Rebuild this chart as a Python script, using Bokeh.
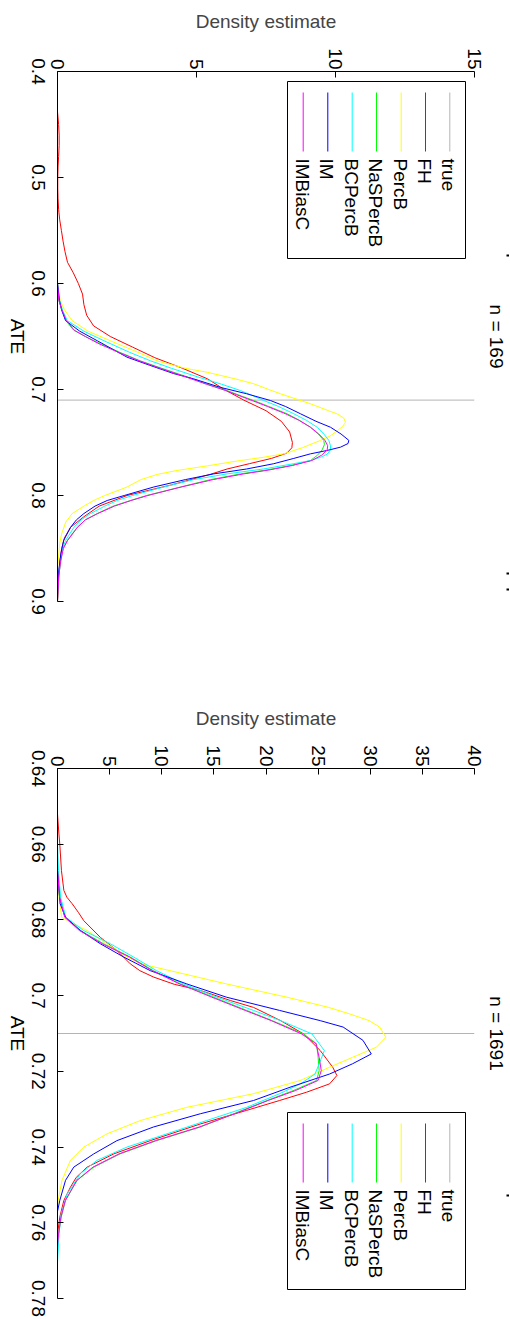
import math
from bokeh.plotting import figure
from bokeh.models import Range1d, FixedTicker
from bokeh.layouts import column, row
from bokeh.embed import file_html
from bokeh.resources import INLINE
from bokeh.core.properties import value

FONT = "Liberation Sans"
FS = "19px"

names = ["true", "FH", "PercB", "NaSPercB", "BCPercB", "IM", "IMBiasC"]
colors = ["#b4b4b4", "#ff0000", "#ffff00", "#00ff00", "#00ffff", "#0000ff", "#ff00ff"]

# ---------------- panel 1 (n = 169) ----------------
p1_title = "n = 169"
p1_true = 0.71
p1_dens_ticks = [0, 5, 10, 15]
p1_ate_ticks = [0.4, 0.5, 0.6, 0.7, 0.8, 0.9]
p1_ate_labels = ["0.4", "0.5", "0.6", "0.7", "0.8", "0.9"]

p1_fh_ate = [0.438, 0.45, 0.46, 0.47, 0.48, 0.49, 0.50, 0.51, 0.52, 0.53, 0.54, 0.55, 0.56, 0.57, 0.58, 0.59,
             0.60, 0.61, 0.62, 0.63, 0.64, 0.65, 0.66, 0.67, 0.68, 0.69, 0.70, 0.71, 0.72, 0.73, 0.74, 0.75,
             0.755, 0.76, 0.765, 0.77, 0.775, 0.78, 0.79, 0.80, 0.81, 0.82, 0.83, 0.84, 0.85, 0.86, 0.87, 0.88, 0.89, 0.90]
p1_fh_den = [0.0, 0.04, 0.06, 0.06, 0.04, 0.02, 0.01, 0.01, 0.02, 0.04, 0.08, 0.14, 0.2, 0.27, 0.36, 0.57,
             0.75, 0.9, 0.95, 1.05, 1.3, 1.9, 2.7, 3.5, 4.5, 5.4, 6.0, 6.7, 7.5, 8.05, 8.35, 8.45,
             8.43, 8.25, 7.7, 6.9, 6.1, 5.5, 4.1, 2.5, 1.5, 0.95, 0.47, 0.25, 0.15, 0.1, 0.06, 0.03, 0.02, 0.0]

p1_percb_ate = [0.60, 0.61, 0.616, 0.625, 0.635, 0.645, 0.654, 0.665, 0.673, 0.68, 0.6837, 0.69, 0.6946, 0.70,
                0.704, 0.71, 0.7135, 0.72, 0.723, 0.727, 0.731, 0.735, 0.739, 0.744, 0.748, 0.755, 0.7607, 0.764,
                0.767, 0.772, 0.7764, 0.78, 0.785, 0.792, 0.80, 0.8047, 0.81, 0.817, 0.825, 0.836, 0.845, 0.855, 0.868]
p1_percb_den = [0.0, 0.05, 0.1, 0.25, 0.53, 1.1, 1.9, 2.9, 3.58, 4.6, 5.38, 6.4, 7.06, 7.6,
                8.02, 8.7, 9.1, 9.75, 10.06, 10.3, 10.36, 10.25, 10.06, 9.8, 9.46, 8.8, 8.14, 7.4,
                6.58, 5.4, 4.3, 3.6, 3.0, 2.5, 1.7, 1.3, 0.95, 0.53, 0.3, 0.15, 0.08, 0.05, 0.0]

p1_naspercb_ate = [0.60, 0.616, 0.625, 0.635, 0.644, 0.65, 0.657, 0.665, 0.673, 0.68, 0.688, 0.695, 0.701, 0.705,
                   0.7104, 0.716, 0.7229, 0.729, 0.7356, 0.742, 0.748, 0.752, 0.757, 0.762, 0.767, 0.7717, 0.776,
                   0.7796, 0.785, 0.792, 0.80, 0.8047, 0.81, 0.817, 0.823, 0.83, 0.8425, 0.85, 0.861, 0.875, 0.89, 0.90]
p1_naspercb_den = [0.0, 0.05, 0.15, 0.3, 0.58, 1.0, 1.55, 2.25, 2.98, 3.75, 4.66, 5.4, 6.1, 6.5,
                   7.06, 7.6, 8.26, 8.7, 9.1, 9.38, 9.58, 9.6, 9.52, 9.35, 9.1, 8.38, 7.5,
                   6.58, 5.5, 4.42, 3.2, 2.63, 2.0, 1.43, 1.0, 0.71, 0.35, 0.2, 0.12, 0.05, 0.02, 0.0]

p1_bcpercb_ate = [0.60, 0.616, 0.625, 0.635, 0.645, 0.654, 0.665, 0.673, 0.68, 0.688, 0.695, 0.701, 0.705, 0.7104,
                  0.716, 0.7229, 0.729, 0.7356, 0.742, 0.748, 0.753, 0.757, 0.761, 0.764, 0.767, 0.77, 0.775,
                  0.7796, 0.785, 0.792, 0.80, 0.8047, 0.81, 0.817, 0.823, 0.83, 0.8425, 0.85, 0.861, 0.875, 0.89]
p1_bcpercb_den = [0.0, 0.08, 0.18, 0.35, 0.95, 1.67, 2.6, 3.35, 4.1, 5.03, 5.9, 6.58, 6.95, 7.42,
                  7.95, 8.5, 8.95, 9.34, 9.58, 9.76, 9.82, 9.82, 9.7, 9.46, 9.1, 8.5, 7.4,
                  6.1, 4.9, 3.82, 2.7, 2.15, 1.7, 1.19, 0.85, 0.59, 0.29, 0.18, 0.1, 0.04, 0.0]

p1_im_ate = [0.60, 0.616, 0.625, 0.635, 0.645, 0.654, 0.6695, 0.677, 0.685, 0.69, 0.698, 0.704, 0.7104, 0.716,
             0.7229, 0.73, 0.7356, 0.742, 0.748, 0.751, 0.7544, 0.7575, 0.7607, 0.765, 0.77, 0.775, 0.7796,
             0.785, 0.792, 0.80, 0.8047, 0.81, 0.817, 0.823, 0.83, 0.8425, 0.855, 0.87, 0.89]
p1_im_den = [0.0, 0.07, 0.15, 0.29, 0.8, 1.43, 2.5, 3.3, 4.18, 4.9, 5.86, 6.8, 7.66, 8.2,
             8.74, 9.3, 9.82, 10.2, 10.48, 10.45, 10.18, 9.7, 9.1, 8.5, 7.78, 6.8, 5.62,
             4.6, 3.46, 2.4, 1.79, 1.35, 0.95, 0.68, 0.47, 0.22, 0.12, 0.05, 0.0]

p1_imbiasc_ate = [0.60, 0.616, 0.625, 0.635, 0.644, 0.65, 0.657, 0.665, 0.673, 0.68, 0.688, 0.695, 0.701, 0.705,
                  0.7104, 0.716, 0.7229, 0.729, 0.7356, 0.742, 0.748, 0.753, 0.757, 0.762, 0.767, 0.7717, 0.776,
                  0.7796, 0.785, 0.792, 0.80, 0.8047, 0.81, 0.817, 0.823, 0.83, 0.8425, 0.85, 0.861, 0.875, 0.89, 0.90]
p1_imbiasc_den = [0.0, 0.05, 0.16, 0.32, 0.6, 1.0, 1.5, 2.2, 2.95, 3.7, 4.6, 5.35, 6.05, 6.45,
                  7.0, 7.55, 8.2, 8.68, 9.1, 9.4, 9.62, 9.72, 9.7, 9.5, 9.15, 8.45, 7.6,
                  6.7, 5.6, 4.45, 3.25, 2.65, 2.05, 1.45, 1.0, 0.72, 0.36, 0.21, 0.12, 0.05, 0.02, 0.0]

# ---------------- panel 2 (n = 1691) ----------------
p2_title = "n = 1691"
p2_true = 0.71
p2_dens_ticks = [0, 5, 10, 15, 20, 25, 30, 35, 40]
p2_ate_ticks = [0.64, 0.66, 0.68, 0.70, 0.72, 0.74, 0.76, 0.78]
p2_ate_labels = ["0.64", "0.66", "0.68", "0.7", "0.72", "0.74", "0.76", "0.78"]

p2_fh_ate = [0.652, 0.656, 0.66, 0.667, 0.6722, 0.674, 0.6757, 0.678, 0.6802, 0.6846, 0.6881, 0.6916, 0.6934,
             0.6951, 0.697, 0.6986, 0.7013, 0.7031, 0.7066, 0.7101, 0.7145, 0.7189, 0.7211, 0.7233, 0.7255,
             0.7277, 0.7303, 0.7339, 0.7383, 0.7418, 0.7453, 0.748, 0.7506, 0.7541, 0.7585, 0.763]
p2_fh_den = [0.0, 0.1, 0.22, 0.38, 0.61, 0.9, 1.4, 2.0, 2.52, 4.11, 5.71, 6.98, 7.9,
             9.22, 11.2, 13.68, 16.6, 18.8, 21.4, 23.6, 25.2, 26.4, 26.8, 26.1, 23.9,
             21.3, 18.15, 13.7, 8.9, 5.4, 2.84, 1.8, 1.24, 0.61, 0.22, 0.0]

p2_percb_ate = [0.667, 0.674, 0.6793, 0.681, 0.6828, 0.6863, 0.6898, 0.6916, 0.6934, 0.6969, 0.7004, 0.7031,
                0.7048, 0.7066, 0.7083, 0.711, 0.7136, 0.7163, 0.7189, 0.7224, 0.7259, 0.7295, 0.733, 0.7365,
                0.74, 0.7435, 0.7488, 0.7541, 0.756]
p2_percb_den = [0.0, 0.15, 0.4, 1.5, 2.84, 4.75, 6.67, 8.0, 10.8, 16.2, 22.0, 26.0,
                28.0, 29.9, 30.9, 31.5, 30.6, 28.3, 26.1, 23.3, 18.8, 12.4, 7.94, 4.75,
                2.52, 1.24, 0.43, 0.06, 0.0]

p2_naspercb_ate = [0.667, 0.674, 0.6793, 0.6828, 0.6863, 0.6898, 0.6934, 0.6969, 0.7004, 0.7039, 0.7066, 0.7101,
                   0.7127, 0.7163, 0.7198, 0.7224, 0.7251, 0.7277, 0.7312, 0.7347, 0.7383, 0.7418, 0.7453,
                   0.7488, 0.7541, 0.7585, 0.763, 0.766]
p2_naspercb_den = [0.0, 0.2, 0.7, 2.2, 4.43, 6.98, 9.2, 11.8, 14.96, 18.15, 20.6, 23.6,
                   24.85, 25.0, 25.1, 24.85, 22.6, 20.1, 16.9, 13.7, 9.5, 6.0, 3.48,
                   1.88, 0.77, 0.35, 0.1, 0.0]

p2_bcpercb_ate = [0.660, 0.667, 0.674, 0.6793, 0.6828, 0.6863, 0.6898, 0.6934, 0.6969, 0.7004, 0.7039, 0.7066,
                  0.7101, 0.7145, 0.718, 0.7207, 0.7233, 0.7259, 0.7295, 0.733, 0.7365, 0.74, 0.7435, 0.747,
                  0.7524, 0.7577, 0.763, 0.7705]
p2_bcpercb_den = [0.0, 0.1, 0.3, 0.8, 2.5, 5.07, 7.3, 9.5, 12.1, 15.3, 18.8, 21.4,
                  24.4, 25.6, 25.1, 24.7, 23.3, 21.3, 18.15, 14.3, 10.5, 6.67, 3.8, 2.2,
                  0.92, 0.35, 0.15, 0.0]

p2_im_ate = [0.667, 0.6757, 0.6793, 0.6828, 0.6863, 0.6898, 0.6934, 0.6969, 0.7004, 0.7039, 0.7066, 0.7083,
             0.7118, 0.7154, 0.718, 0.7207, 0.7242, 0.7277, 0.7312, 0.7347, 0.7383, 0.7418, 0.7453, 0.7488,
             0.7541, 0.757]
p2_im_den = [0.0, 0.25, 0.77, 2.2, 4.11, 6.35, 8.9, 12.4, 16.2, 21.3, 25.2, 27.4,
             29.3, 30.1, 28.3, 26.1, 22.3, 18.8, 13.7, 9.2, 5.7, 3.48, 1.56, 0.77,
             0.22, 0.0]

p2_imbiasc_ate = [0.667, 0.674, 0.6793, 0.6828, 0.6863, 0.6898, 0.6934, 0.6969, 0.7004, 0.7039, 0.7066, 0.7101,
                  0.7127, 0.7163, 0.7198, 0.7224, 0.7251, 0.7277, 0.7312, 0.7347, 0.7383, 0.7418, 0.7453,
                  0.7488, 0.7541, 0.7585, 0.763, 0.766]
p2_imbiasc_den = [0.0, 0.2, 0.7, 2.1, 4.3, 6.9, 9.1, 11.7, 14.8, 18.0, 20.5, 23.4,
                  24.8, 25.1, 25.3, 25.0, 22.8, 20.2, 17.0, 13.6, 9.4, 5.9, 3.4,
                  1.85, 0.75, 0.33, 0.1, 0.0]

# ---------------- layout geometry (page pixels) ----------------
O = 0                 # page origin of the layout
LW = 47               # width of the left text strip
PBL, PBR = 10, 10     # left / right border of the plot figure
FW, FH = 417, 530     # frame size
FX = O + LW + PBL     # frame left (page px)
RX0 = FX + FW + PBR   # start of right text strip
RW = 509 - RX0        # width of right text strip


def no_align(f):
    try:
        f.frame_align = False
    except Exception:
        pass


def strip(x_start, width, height, yr):
    f = figure(width=width, height=height, output_backend="svg", toolbar_location=None,
               x_range=Range1d(x_start, x_start + width), y_range=yr,
               x_axis_location=None, y_axis_location=None,
               min_border_left=0, min_border_right=0, min_border_top=0, min_border_bottom=0)
    f.outline_line_color = None
    for g in f.grid:
        g.visible = False
    f.background_fill_color = "white"
    f.border_fill_color = "white"
    no_align(f)
    return f


def make_panel(title, true_ate, dens_ticks, ate_ticks, ate_labels, series,
               fig_top_page, frame_top_page, bottom_border, legend_top_page, edge_marks):
    x0, x1 = dens_ticks[0], dens_ticks[-1]
    ytop, ybot = ate_ticks[0], ate_ticks[-1]
    FY = float(frame_top_page)
    top_border = frame_top_page - fig_top_page
    H = top_border + FH + bottom_border

    def dx(px):
        return x0 + (px - FX) / FW * (x1 - x0)

    def dy(py):
        return ytop + (py - FY) / FH * (ybot - ytop)

    p = figure(frame_width=FW, frame_height=FH, output_backend="svg", toolbar_location=None,
               x_range=Range1d(x0, x1), y_range=Range1d(ybot, ytop),
               x_axis_location="above", y_axis_location="left",
               min_border_left=PBL, min_border_right=PBR,
               min_border_top=top_border, min_border_bottom=bottom_border)
    no_align(p)
    p.outline_line_color = None
    p.xgrid.visible = False
    p.ygrid.visible = False
    p.background_fill_color = "white"
    p.border_fill_color = "white"

    xa = p.xaxis[0]
    xa.ticker = FixedTicker(ticks=dens_ticks)
    xa.major_tick_in = 6
    xa.major_tick_out = 0
    xa.minor_tick_line_color = None
    xa.axis_line_color = "black"
    xa.major_tick_line_color = "black"
    xa.major_label_overrides = {t: str(t) for t in dens_ticks}
    xa.major_label_orientation = -math.pi / 2
    xa.major_label_text_font = FONT
    xa.major_label_text_font_size = FS
    xa.major_label_text_color = "black"
    xa.major_label_standoff = 2
    xa.axis_label = "Density estimate"
    xa.axis_label_text_font = FONT
    xa.axis_label_text_font_size = FS
    xa.axis_label_text_font_style = "normal"
    xa.axis_label_standoff = 13

    # ATE axis: tick marks only (its labels are drawn, rotated, in the left strip)
    ya = p.yaxis[0]
    ya.ticker = FixedTicker(ticks=[], minor_ticks=ate_ticks)
    ya.axis_line_color = "black"
    ya.minor_tick_in = 6
    ya.minor_tick_out = 0
    ya.minor_tick_line_color = "black"
    ya.major_tick_line_color = None
    ya.major_label_standoff = 0

    # true value line
    p.segment(x0=[x0], y0=[true_ate], x1=[x1], y1=[true_ate], line_color=colors[0], line_width=1)

    for (ate, den), c in zip(series, colors[1:]):
        p.line(x=den, y=ate, line_color=c, line_width=1)

    # legend (rotated like the rest of the figure)
    L = legend_top_page
    p.quad(left=[dx(287)], right=[dx(465)], top=[dy(L)], bottom=[dy(L + 177)],
           fill_color="white", line_color="black", line_width=1)
    lx = [449.3, 425, 400.7, 376, 351.7, 327.3, 302.7]
    p.segment(x0=[dx(v) for v in lx], y0=[dy(L + 11)] * 7, x1=[dx(v) for v in lx], y1=[dy(L + 70)] * 7,
              line_color=colors, line_width=1)
    p.text(x=[dx(v - 1) for v in lx], y=[dy(L + 77)] * 7, text=names, angle=-math.pi / 2,
           text_align="left", text_baseline="middle", text_font=value(FONT), text_font_size=FS,
           text_color="black")

    # left strip: ATE tick labels and axis title, on the same ATE scale
    yr = Range1d(dy(fig_top_page + H), dy(fig_top_page))
    lf = strip(O, LW, H, yr)
    lf.text(x=[O + 37.5] * len(ate_ticks), y=ate_ticks, text=ate_labels, angle=-math.pi / 2,
            text_align="center", text_baseline="middle", text_font=value(FONT),
            text_font_size=FS, text_color="black")
    lf.text(x=[O + 17], y=[(ytop + ybot) / 2], text=["ATE"], angle=-math.pi / 2,
            text_align="center", text_baseline="middle", text_font=value(FONT),
            text_font_size=FS, text_color="black")

    # right strip: panel title and the small clipped marks at the page edge
    rf = strip(RX0, RW, H, yr)
    rf.text(x=[495.5], y=[(ytop + ybot) / 2], text=[title], angle=-math.pi / 2,
            text_align="center", text_baseline="middle", text_font=value(FONT),
            text_font_size=FS, text_color="black")
    if edge_marks:
        ys = [dy(v) for v in edge_marks]
        rf.segment(x0=[506] * len(ys), y0=ys, x1=[509] * len(ys), y1=ys,
                   line_color="black", line_width=2)
    return row(lf, p, rf, spacing=0)


s1 = [(p1_fh_ate, p1_fh_den), (p1_percb_ate, p1_percb_den), (p1_naspercb_ate, p1_naspercb_den),
      (p1_bcpercb_ate, p1_bcpercb_den), (p1_im_ate, p1_im_den), (p1_imbiasc_ate, p1_imbiasc_den)]
s2 = [(p2_fh_ate, p2_fh_den), (p2_percb_ate, p2_percb_den), (p2_naspercb_ate, p2_naspercb_den),
      (p2_bcpercb_ate, p2_bcpercb_den), (p2_im_ate, p2_im_den), (p2_imbiasc_ate, p2_imbiasc_den)]

row1 = make_panel(p1_title, p1_true, p1_dens_ticks, p1_ate_ticks, p1_ate_labels, s1,
                  fig_top_page=O, frame_top_page=71, bottom_border=104, legend_top_page=81,
                  edge_marks=[255, 573, 589])
row2 = make_panel(p2_title, p2_true, p2_dens_ticks, p2_ate_ticks, p2_ate_labels, s2,
                  fig_top_page=O + 705, frame_top_page=768, bottom_border=20, legend_top_page=1112,
                  edge_marks=[1195])

layout = column(row1, row2, spacing=0)
open("out.html", "w").write(file_html(layout, INLINE))
